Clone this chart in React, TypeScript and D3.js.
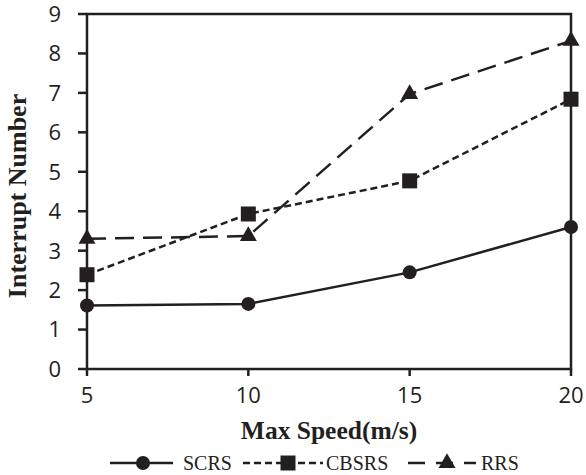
import React from "react";
import * as d3 from "d3";

const speeds = [5, 10, 15, 20];
const scrs = [1.61, 1.65, 2.45, 3.6];
const cbsrs = [2.39, 3.93, 4.77, 6.84];
const rrs = [3.3, 3.37, 6.97, 8.32];
const yTicks = [0, 1, 2, 3, 4, 5, 6, 7, 8, 9];
const xTicks = [5, 10, 15, 20];
const seriesNames = ["SCRS", "CBSRS", "RRS"];

const W = 586;
const H = 475;
const INK = "#231f20";
const left = 87;
const right = 571;
const top = 14;
const bottom = 369;

const x = d3.scaleLinear().domain([5, 20]).range([left, right]);
const y = d3.scaleLinear().domain([0, 9]).range([bottom, top]);

const styles = [
  { dash: undefined as string | undefined, marker: "circle" },
  { dash: "7 4", marker: "square" },
  { dash: "19 9", marker: "triangle" },
];

function Marker({ kind, cx, cy }: { kind: string; cx: number; cy: number }) {
  if (kind === "circle") return <circle cx={cx} cy={cy} r={7} fill={INK} />;
  if (kind === "square")
    return <rect x={cx - 7.5} y={cy - 7.5} width={15} height={15} fill={INK} />;
  const sym = d3.symbol(d3.symbolTriangle, 125)();
  return <path d={sym as string} transform={`translate(${cx},${cy})`} fill={INK} />;
}

export default function App() {
  const data = [scrs, cbsrs, rrs];
  const line = d3
    .line<number>()
    .x((_, i) => x(speeds[i]))
    .y((v) => y(v));

  const legendItems = [
    { x1: 110, x2: 173, mx: 143, tx: 183 },
    { x1: 243, x2: 323, mx: 288, tx: 326 },
    { x1: 408, x2: 476, mx: 447, tx: 481 },
  ];

  return (
    <svg width={W} height={H} style={{ position: "absolute", left: 0, top: 0, background: "#fff" }}>
      {/* frame */}
      <rect x={left} y={top} width={right - left} height={bottom - top} fill="none" stroke={INK} strokeWidth={2.5} />
      {/* y axis ticks */}
      {yTicks.map((t) => (
        <g key={"y" + t}>
          <line x1={left - 9} x2={left} y1={y(t)} y2={y(t)} stroke={INK} strokeWidth={2.5} />
          <text
            x={61}
            y={y(t)}
            dy="0.36em"
            textAnchor="end"
            fontFamily="Open Sans"
            fontSize={22}
            fill={INK}
          >
            {t}
          </text>
        </g>
      ))}
      {/* x axis ticks */}
      {xTicks.map((t) => (
        <g key={"x" + t}>
          <line x1={x(t)} x2={x(t)} y1={bottom} y2={bottom + 7} stroke={INK} strokeWidth={2.5} />
          <text
            x={x(t)}
            y={403}
            textAnchor="middle"
            fontFamily="Open Sans"
            fontSize={22}
            fill={INK}
          >
            {t}
          </text>
        </g>
      ))}
      {/* series */}
      {data.map((vals, si) => (
        <g key={seriesNames[si]}>
          <path
            d={line(vals) as string}
            fill="none"
            stroke={INK}
            strokeWidth={2.5}
            strokeDasharray={styles[si].dash}
          />
          {vals.map((v, i) => (
            <Marker key={i} kind={styles[si].marker} cx={x(speeds[i])} cy={y(v)} />
          ))}
        </g>
      ))}
      {/* axis titles */}
      <text
        x={(left + right) / 2}
        y={439}
        textAnchor="middle"
        fontFamily="Liberation Serif"
        fontWeight="bold"
        fontSize={25.5}
        fill={INK}
      >
        Max Speed(m/s)
      </text>
      <text
        transform={`translate(26,196) rotate(-90)`}
        textAnchor="middle"
        fontFamily="Liberation Serif"
        fontWeight="bold"
        fontSize={26}
        fill={INK}
      >
        Interrupt Number
      </text>
      {/* legend */}
      {legendItems.map((it, si) => (
        <g key={"lg" + si}>
          <line
            x1={it.x1}
            x2={it.x2}
            y1={463}
            y2={463}
            stroke={INK}
            strokeWidth={2.5}
            strokeDasharray={styles[si].dash === "19 9" ? "17 11" : styles[si].dash}
          />
          <Marker kind={styles[si].marker} cx={it.mx} cy={463} />
          <text x={it.tx} y={470} fontFamily="Liberation Serif" fontSize={20} fill={INK}>
            {seriesNames[si]}
          </text>
        </g>
      ))}
    </svg>
  );
}
